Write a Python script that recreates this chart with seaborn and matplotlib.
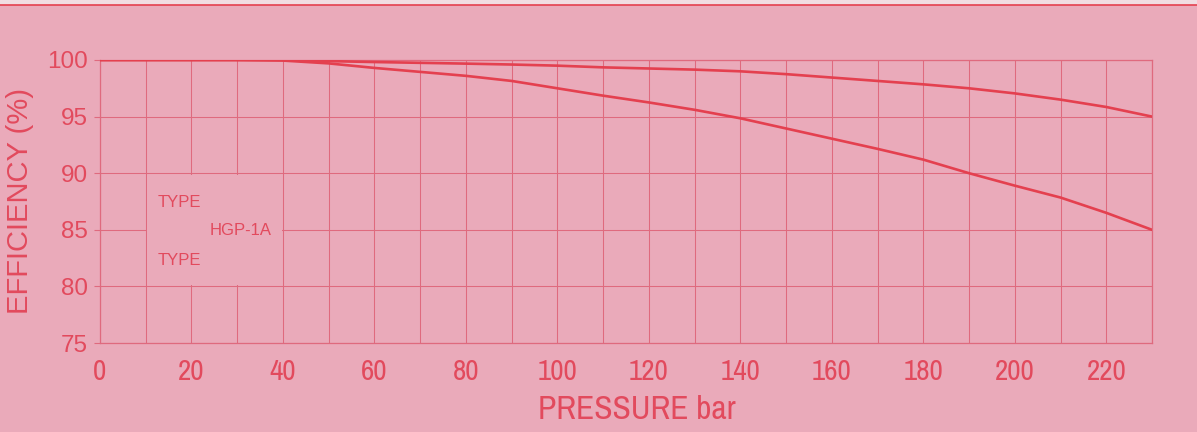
import pandas as pd
import matplotlib.pyplot as plt
import seaborn as sns
from matplotlib.patches import Rectangle
from matplotlib.lines import Line2D

# --- data ---
pressure = [0, 10, 20, 30, 40, 50, 60, 70, 80, 90, 100, 110,
            120, 130, 140, 150, 160, 170, 180, 190, 200, 210, 220, 230]
eff_upper = [100, 100, 100, 100, 100, 99.9, 99.82, 99.75, 99.68, 99.6, 99.5, 99.35,
             99.25, 99.15, 99.0, 98.75, 98.45, 98.15, 97.85, 97.5, 97.05, 96.5, 95.85, 95.0]
eff_lower = [100, 100, 100, 100, 99.95, 99.7, 99.3, 98.95, 98.6, 98.15, 97.5, 96.85,
             96.25, 95.6, 94.85, 93.95, 93.05, 92.15, 91.2, 90.0, 88.9, 87.85, 86.5, 85.0]
x_ticks = [0, 20, 40, 60, 80, 100, 120, 140, 160, 180, 200, 220]
y_ticks = [75, 80, 85, 90, 95, 100]

df = pd.DataFrame({
    "pressure": pressure * 2,
    "efficiency": eff_upper + eff_lower,
    "curve": ["upper"] * len(pressure) + ["lower"] * len(pressure),
})

# --- colours ---
bg = "#eaaaba"
red = "#e4404f"
grid_red = "#df6a7e"
text_red = "#e24a5d"
narrow = ["Archivo Narrow", "Roboto Condensed", "DejaVu Sans"]

sns.set_theme(style="white")
plt.rcParams["font.family"] = ["Liberation Sans", "DejaVu Sans"]

fig = plt.figure(figsize=(11.97, 4.32), dpi=100, facecolor=bg)
ax = fig.add_axes([100 / 1197, 1 - 343 / 432, 1052 / 1197, 283 / 432])
ax.set_facecolor(bg)

sns.lineplot(data=df, x="pressure", y="efficiency", hue="curve",
             palette={"upper": red, "lower": red}, linewidth=1.9,
             legend=False, ax=ax, zorder=3)

ax.set_xlim(0, 230)
ax.set_ylim(75, 100)
ax.set_xticks(x_ticks)
ax.set_yticks(y_ticks)
ax.set_xticks(range(0, 231, 10), minor=True)
ax.set_axisbelow(True)
ax.grid(which="both", color=grid_red, linewidth=0.75)

for s in ax.spines.values():
    s.set_color(grid_red)
    s.set_linewidth(0.9)

ax.tick_params(axis="y", which="major", length=4, width=0.8, color=grid_red,
               labelcolor=text_red, labelsize=17.5, pad=5, left=True)
ax.tick_params(axis="x", which="both", length=0, labelcolor=text_red, pad=11)
for lbl in ax.get_xticklabels():
    lbl.set_fontfamily(narrow)
    lbl.set_fontsize(21)

# blank area behind the legend text
ax.add_patch(Rectangle((10.3, 80.15), 29.4, 9.7, facecolor=bg, edgecolor="none", zorder=1))

ax.text(12.5, 87.4, "TYPE", color=text_red, fontsize=12, va="center", ha="left")
ax.text(24, 84.9, "HGP-1A", color=text_red, fontsize=12, va="center", ha="left")
ax.text(12.5, 82.3, "TYPE", color=text_red, fontsize=12, va="center", ha="left")

ax.set_xlabel("PRESSURE bar", color=text_red, fontsize=24, fontfamily=narrow)
ax.set_ylabel("EFFICIENCY (%)", color=text_red, fontsize=21)
ax.xaxis.set_label_coords(0.51, -0.185)
ax.yaxis.set_label_coords(-0.063, 0.5)

# paper edge at the top
fig.patches.append(Rectangle((0, 1 - 5 / 432), 1, 5 / 432, transform=fig.transFigure,
                             facecolor="#f1dde2", edgecolor="none"))
fig.lines.append(Line2D([0, 1], [1 - 5 / 432, 1 - 5 / 432], transform=fig.transFigure,
                        color=red, linewidth=1.2))

fig.savefig("out.png", dpi=100, facecolor=bg)
